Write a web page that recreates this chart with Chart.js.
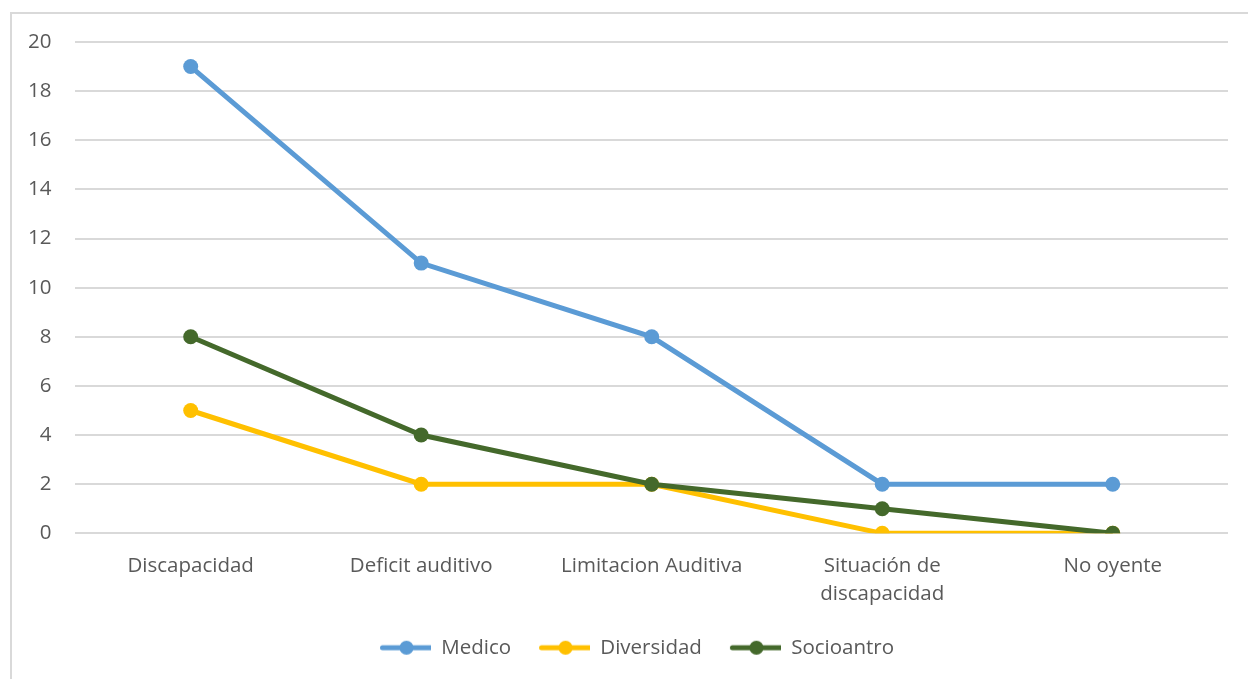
<!DOCTYPE html>
<html>
<head>
<meta charset="utf-8">
<script src="https://cdn.jsdelivr.net/npm/chart.js@4.4.1/dist/chart.umd.min.js"></script>
<style>
  html, body { margin: 0; padding: 0; background: #ffffff; overflow: hidden; width: 1248px; height: 679px; }
  #frame { position: absolute; left: 10px; top: 12px; width: 1256px; height: 700px;
           border: 2px solid #d9d9d9; box-sizing: border-box; }
  #wrap { position: absolute; left: 0; top: 0; width: 1278px; height: 679px; }
</style>
</head>
<body>
<div id="frame"></div>
<div id="wrap"><canvas id="chart" width="1278" height="679"></canvas></div>
<script>
// Categories and series values
const categories = ['Discapacidad', 'Deficit auditivo', 'Limitacion Auditiva', ['Situación de', 'discapacidad'], 'No oyente'];
const medico = [19, 11, 8, 2, 2];
const diversidad = [5, 2, 2, 0, 0];
const socioantro = [8, 4, 2, 1, 0];
const yTicks = [0, 2, 4, 6, 8, 10, 12, 14, 16, 18, 20];

const FONT = "'Open Sans', 'Liberation Sans', sans-serif";
const TEXT = '#595959';
const SIZE = 20.5;

// Legend symbol: blank lead-in space, then a short line with a dot in the middle
const LEAD = 20;
const SYMBOL_W = 49 + LEAD;
function legendSymbol(color) {
  const c = document.createElement('canvas');
  c.width = SYMBOL_W; c.height = 16;
  const g = c.getContext('2d');
  g.strokeStyle = color; g.lineWidth = 5; g.lineCap = 'round';
  g.beginPath(); g.moveTo(LEAD + 0.5, 8); g.lineTo(LEAD + 48.5, 8); g.stroke();
  g.fillStyle = color;
  g.beginPath(); g.arc(LEAD + 24.5, 8, 7, 0, Math.PI * 2); g.fill();
  return c;
}

// Higher "order" is painted first, so Socioantro ends up on top
function series(label, data, color, order) {
  return {
    label, data, order,
    borderColor: color, backgroundColor: color,
    borderWidth: 5, pointRadius: 7.5, pointHoverRadius: 7.5,
    pointBorderWidth: 0, tension: 0, fill: false,
    legendImg: legendSymbol(color)
  };
}

// Nudges the legend row a little to the right of the plot centre
const legendNudge = {
  id: 'legendNudge',
  afterLayout(chart) {
    if (chart.legend) { chart.legend.left += 12; chart.legend.right += 12; }
  }
};

new Chart(document.getElementById('chart'), {
  type: 'line',
  data: {
    labels: categories,
    datasets: [
      series('Medico', medico, '#5b9bd5', 3),
      series('Diversidad', diversidad, '#ffc000', 2),
      series('Socioantro', socioantro, '#44692b', 1)
    ]
  },
  plugins: [legendNudge],
  options: {
    responsive: false,
    animation: false,
    layout: { padding: { left: 4, right: 50, top: 42, bottom: 11 } },
    scales: {
      x: {
        offset: true,
        grid: { display: false, drawTicks: false },
        border: { display: false },
        ticks: { color: TEXT, font: { family: FONT, size: SIZE, lineHeight: 1.37 }, padding: 19, maxRotation: 0, autoSkip: false }
      },
      y: {
        min: 0, max: 20,
        afterBuildTicks: (axis) => { axis.ticks = yTicks.map(v => ({ value: v })); },
        grid: { color: '#d9d9d9', lineWidth: 2, drawTicks: false },
        border: { display: false },
        ticks: { color: TEXT, font: { family: FONT, size: SIZE }, padding: 24 }
      }
    },
    plugins: {
      tooltip: { enabled: false },
      legend: {
        position: 'bottom',
        labels: {
          color: TEXT, font: { family: FONT, size: SIZE },
          usePointStyle: true, pointStyleWidth: SYMBOL_W, boxHeight: 16, padding: 10,
          generateLabels(chart) {
            return chart.data.datasets.map((ds, i) => ({
              text: ds.label, fontColor: TEXT, datasetIndex: i,
              pointStyle: ds.legendImg, strokeStyle: ds.borderColor,
              fillStyle: ds.borderColor, lineWidth: 0, hidden: false
            }));
          },
          sort: (a, b) => a.datasetIndex - b.datasetIndex
        }
      }
    }
  }
});
</script>
</body>
</html>
